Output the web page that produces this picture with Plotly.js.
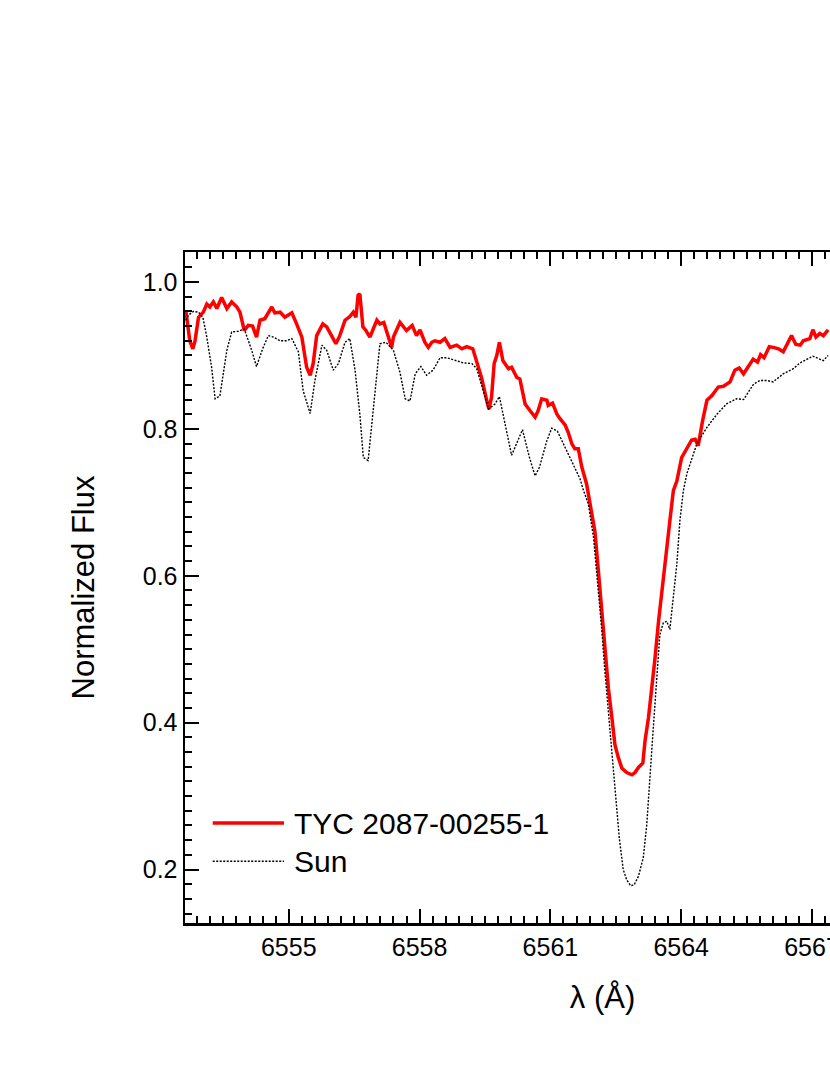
<!DOCTYPE html>
<html>
<head>
<meta charset="utf-8">
<script src="https://cdn.plot.ly/plotly-3.0.1.min.js"></script>
<style>
  html, body { margin: 0; padding: 0; overflow: hidden; background: #fff; }
  #chart { width: 1060px; height: 1075px; }
</style>
</head>
<body>
<div id="chart"></div>
<script>
// TYC 2087-00255-1 spectrum around H-alpha
const lambdaTyc = [
  6552.64, 6552.73, 6552.80, 6552.85, 6552.93, 6553.04, 6553.12, 6553.19, 6553.27, 6553.35,
  6553.46, 6553.58, 6553.69, 6553.81, 6553.88, 6553.98, 6554.07, 6554.17, 6554.26, 6554.34,
  6554.45, 6554.53, 6554.61, 6554.68, 6554.80, 6554.91, 6555.07, 6555.18, 6555.30, 6555.41,
  6555.49, 6555.56, 6555.64, 6555.78, 6555.87, 6555.98, 6556.08, 6556.17, 6556.29, 6556.40,
  6556.48, 6556.54, 6556.59, 6556.63, 6556.70, 6556.77, 6556.86, 6557.02, 6557.09, 6557.18,
  6557.28, 6557.36, 6557.40, 6557.55, 6557.70, 6557.83, 6557.93, 6558.01, 6558.12, 6558.20,
  6558.28, 6558.35, 6558.47, 6558.58, 6558.70, 6558.85, 6558.97, 6559.08, 6559.22, 6559.31,
  6559.42, 6559.54, 6559.59, 6559.65, 6559.71, 6559.77, 6559.83, 6559.91, 6560.04, 6560.11,
  6560.23, 6560.30, 6560.42, 6560.53, 6560.65, 6560.72, 6560.80, 6560.92, 6560.95, 6561.05,
  6561.15, 6561.22, 6561.34, 6561.41, 6561.49, 6561.56, 6561.64, 6561.72, 6561.83, 6561.91,
  6562.02, 6562.10, 6562.18, 6562.25, 6562.33, 6562.41, 6562.48, 6562.56, 6562.64, 6562.75,
  6562.87, 6562.94, 6563.02, 6563.12, 6563.17, 6563.25, 6563.32, 6563.40, 6563.48, 6563.58,
  6563.67, 6563.74, 6563.82, 6563.90, 6564.01, 6564.13, 6564.24, 6564.32, 6564.39, 6564.49,
  6564.59, 6564.70, 6564.85, 6564.97, 6565.12, 6565.23, 6565.33, 6565.43, 6565.54, 6565.65,
  6565.75, 6565.82, 6565.90, 6566.02, 6566.11, 6566.23, 6566.34, 6566.43, 6566.53, 6566.63,
  6566.73, 6566.80, 6566.95, 6567.02, 6567.09, 6567.18, 6567.26, 6567.37
];
const fluxTyc = [
  0.961, 0.920, 0.909, 0.920, 0.952, 0.959, 0.970, 0.966, 0.973, 0.964,
  0.979, 0.964, 0.973, 0.966, 0.959, 0.934, 0.941, 0.940, 0.925, 0.948,
  0.950, 0.959, 0.966, 0.958, 0.959, 0.952, 0.958, 0.943, 0.925, 0.884,
  0.873, 0.889, 0.927, 0.943, 0.939, 0.927, 0.916, 0.927, 0.948, 0.953,
  0.959, 0.952, 0.982, 0.984, 0.939, 0.934, 0.925, 0.948, 0.943, 0.945,
  0.925, 0.911, 0.925, 0.945, 0.934, 0.941, 0.927, 0.935, 0.918, 0.911,
  0.918, 0.920, 0.918, 0.923, 0.911, 0.914, 0.909, 0.912, 0.909, 0.893,
  0.870, 0.839, 0.827, 0.843, 0.889, 0.900, 0.918, 0.893, 0.882, 0.884,
  0.870, 0.868, 0.834, 0.825, 0.816, 0.825, 0.841, 0.839, 0.832, 0.835,
  0.820, 0.814, 0.805, 0.795, 0.780, 0.773, 0.773, 0.748, 0.725, 0.698,
  0.661, 0.607, 0.548, 0.493, 0.447, 0.407, 0.370, 0.352, 0.338, 0.332,
  0.329, 0.332, 0.339, 0.345, 0.375, 0.407, 0.443, 0.488, 0.538, 0.589,
  0.629, 0.675, 0.716, 0.729, 0.761, 0.773, 0.785, 0.786, 0.777, 0.811,
  0.839, 0.845, 0.857, 0.858, 0.864, 0.880, 0.883, 0.875, 0.884, 0.895,
  0.891, 0.901, 0.897, 0.912, 0.911, 0.909, 0.905, 0.916, 0.927, 0.915,
  0.914, 0.920, 0.923, 0.935, 0.925, 0.930, 0.927, 0.935
];

// solar spectrum
const lambdaSun = [
  6552.64, 6552.70, 6552.81, 6552.93, 6553.03, 6553.12, 6553.23, 6553.31, 6553.42, 6553.50,
  6553.58, 6553.69, 6553.84, 6553.98, 6554.15, 6554.26, 6554.40, 6554.53, 6554.65, 6554.80,
  6554.95, 6555.07, 6555.22, 6555.33, 6555.49, 6555.60, 6555.76, 6555.87, 6556.02, 6556.14,
  6556.29, 6556.40, 6556.52, 6556.63, 6556.71, 6556.82, 6556.94, 6557.09, 6557.23, 6557.40,
  6557.55, 6557.67, 6557.78, 6557.90, 6558.03, 6558.16, 6558.31, 6558.47, 6558.62, 6558.81,
  6559.00, 6559.20, 6559.31, 6559.46, 6559.58, 6559.73, 6559.83, 6559.96, 6560.11, 6560.36,
  6560.52, 6560.65, 6560.75, 6560.92, 6561.03, 6561.16, 6561.30, 6561.45, 6561.60, 6561.68,
  6561.76, 6561.87, 6561.99, 6562.10, 6562.18, 6562.25, 6562.33, 6562.41, 6562.48, 6562.58,
  6562.67, 6562.75, 6562.84, 6562.92, 6563.02, 6563.13, 6563.21, 6563.29, 6563.36, 6563.44,
  6563.51, 6563.59, 6563.67, 6563.74, 6563.82, 6563.90, 6563.97, 6564.05, 6564.13, 6564.36,
  6564.59, 6564.82, 6565.04, 6565.27, 6565.43, 6565.66, 6565.81, 6565.96, 6566.11, 6566.34,
  6566.57, 6566.73, 6567.02, 6567.26, 6567.37
];
const fluxSun = [
  0.948, 0.955, 0.960, 0.959, 0.952, 0.925, 0.884, 0.841, 0.845, 0.875,
  0.907, 0.932, 0.933, 0.936, 0.907, 0.885, 0.909, 0.927, 0.925, 0.920,
  0.920, 0.923, 0.905, 0.852, 0.821, 0.866, 0.914, 0.907, 0.880, 0.889,
  0.918, 0.923, 0.880, 0.820, 0.761, 0.757, 0.829, 0.916, 0.918, 0.907,
  0.877, 0.841, 0.838, 0.875, 0.885, 0.873, 0.880, 0.897, 0.897, 0.893,
  0.890, 0.889, 0.882, 0.852, 0.827, 0.834, 0.844, 0.807, 0.764, 0.799,
  0.761, 0.736, 0.748, 0.784, 0.801, 0.797, 0.780, 0.761, 0.743, 0.732,
  0.716, 0.698, 0.652, 0.584, 0.525, 0.470, 0.416, 0.366, 0.311, 0.243,
  0.200, 0.186, 0.178, 0.179, 0.191, 0.216, 0.261, 0.325, 0.393, 0.461,
  0.520, 0.536, 0.538, 0.527, 0.570, 0.616, 0.675, 0.716, 0.739, 0.780,
  0.802, 0.820, 0.834, 0.841, 0.840, 0.861, 0.866, 0.866, 0.864, 0.875,
  0.882, 0.890, 0.899, 0.893, 0.900
];

const seriesNames = ['TYC 2087-00255-1', 'Sun'];
const xTickVals = [6555, 6558, 6561, 6564, 6567, 6570];
const yTickVals = [0.2, 0.4, 0.6, 0.8, 1.0];

const FONT = 'Liberation Sans, Arial, sans-serif';

const traceTyc = {
  x: lambdaTyc,
  y: fluxTyc,
  mode: 'lines',
  type: 'scatter',
  name: seriesNames[0],
  line: { color: '#ff0000', width: 3.5 }
};

const traceSun = {
  x: lambdaSun,
  y: fluxSun,
  mode: 'lines',
  type: 'scatter',
  name: seriesNames[1],
  line: { color: '#000000', width: 1.4, dash: '2px,1.5px' }
};

const layout = {
  width: 1060,
  height: 1075,
  margin: { l: 185, r: 40, t: 252, b: 152 },
  paper_bgcolor: '#fff',
  plot_bgcolor: '#fff',
  showlegend: false,
  xaxis: {
    range: [6552.62, 6571.77],
    tickmode: 'array',
    tickvals: xTickVals,
    ticktext: xTickVals.map(String),
    tickfont: { family: FONT, size: 25, color: '#000' },
    showline: true, linecolor: '#000', linewidth: 2.5, mirror: 'allticks',
    ticks: 'inside', ticklen: 14, tickwidth: 2, tickcolor: '#000',
    showgrid: false, zeroline: false,
    minor: { dtick: 0.3, tick0: 6555, ticks: 'inside', ticklen: 7, tickwidth: 2, tickcolor: '#000', showgrid: false },
    title: { text: 'λ (Å)', font: { family: FONT, size: 31, color: '#000' }, standoff: 27 }
  },
  yaxis: {
    range: [0.1272, 1.0409],
    tickmode: 'array',
    tickvals: yTickVals,
    ticktext: yTickVals.map(v => v.toFixed(1)),
    tickfont: { family: FONT, size: 25, color: '#000' },
    showline: true, linecolor: '#000', linewidth: 2.5, mirror: 'allticks',
    ticks: 'inside', ticklen: 14, tickwidth: 2, tickcolor: '#000',
    showgrid: false, zeroline: false,
    minor: { dtick: 0.02, tick0: 0, ticks: 'inside', ticklen: 7, tickwidth: 2, tickcolor: '#000', showgrid: false },
    title: { text: 'Normalized Flux', font: { family: FONT, size: 31, color: '#000' }, standoff: 39 }
  },
  // legend drawn by hand so the sample lines are as long as in the original
  shapes: [
    { type: 'line', xref: 'paper', yref: 'paper', x0: 0.0332, x1: 0.1186, y0: 0.149, y1: 0.149,
      line: { color: '#ff0000', width: 3.5 } },
    { type: 'line', xref: 'paper', yref: 'paper', x0: 0.0332, x1: 0.1186, y0: 0.092, y1: 0.092,
      line: { color: '#000000', width: 1.4, dash: '2px,1.5px' } }
  ],
  annotations: seriesNames.map((name, i) => ({
    xref: 'paper', yref: 'paper',
    x: 0.1278, y: i === 0 ? 0.149 : 0.092,
    xanchor: 'left', yanchor: 'middle',
    text: name, showarrow: false,
    font: { family: FONT, size: 30, color: '#000' }
  }))
};

Plotly.newPlot('chart', [traceTyc, traceSun], layout, { displayModeBar: false, staticPlot: true });
</script>
</body>
</html>
